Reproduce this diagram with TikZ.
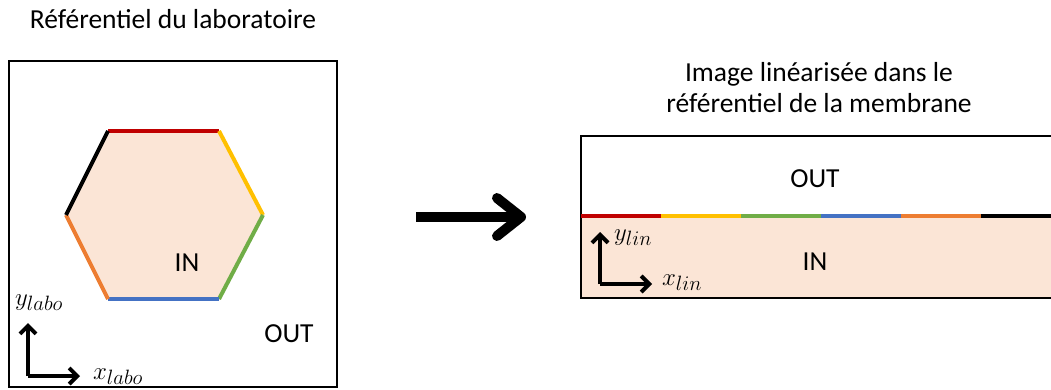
\documentclass[tikz,border=0pt]{standalone}
\usepackage{fontspec}
\setmainfont{Carlito}
\usepackage{tikz}
\usetikzlibrary{arrows.meta,positioning}
\definecolor{inpeach}{HTML}{FBE5D6}
\definecolor{segred}{HTML}{C00000}
\definecolor{segyellow}{HTML}{FFC000}
\definecolor{seggreen}{HTML}{70AD47}
\definecolor{segblue}{HTML}{4472C4}
\definecolor{segorange}{HTML}{ED7D31}
\tikzset{
  frame/.style   ={draw,line width=2pt},
  memb/.style    ={line width=4pt},
  lbl/.style     ={font=\fontsize{27.5}{31}\selectfont,inner sep=0pt,anchor=base},
  mlbl/.style    ={lbl,font=\fontsize{30}{36}\selectfont},
  ttl/.style     ={lbl,align=center},
  axisarr/.style ={-{Straight Barb[length=8pt,width=16pt]},line width=4pt},
  bigarr/.style  ={-{Straight Barb[round,length=24pt,width=38pt]},line width=10pt},
}

\begin{document}
\begin{tikzpicture}[x=1pt,y=-1pt]
\useasboundingbox (0,0) rectangle (1051,390);

% left: laboratory frame
\node[ttl] (titlab) at (173,29) {Référentiel du laboratoire};
\draw[frame] (9,61) rectangle (337,387);

\coordinate (h1) at (108,131);
\coordinate (h2) at (219,131);
\coordinate (h3) at (263,215);
\coordinate (h4) at (219,299);
\coordinate (h5) at (108,299);
\coordinate (h6) at (66,215);
\fill[inpeach] (h1) -- (h2) -- (h3) -- (h4) -- (h5) -- (h6) -- cycle;
\draw[memb,segred]    (h1) -- (h2);
\draw[memb,segyellow] (h2) -- (h3);
\draw[memb,seggreen]  (h3) -- (h4);
\draw[memb,segblue]   (h4) -- (h5);
\draw[memb,segorange] (h5) -- (h6);
\draw[memb,black]     (h6) -- (h1);

\node[lbl] (inlab)  at (187,271) {IN};
\node[lbl] (outlab) at (289,342) {OUT};

\coordinate (olab) at (28,376);
\coordinate (ylab) at (28,323);
\coordinate (xlab) at (80,376);
\draw[axisarr] (olab) -- (ylab);
\draw[axisarr] (olab) -- (xlab);
\node[mlbl] (ylabo) at (39,305) {$y_{labo}$};
\node[mlbl] (xlabo) at (118,379) {$x_{labo}$};

% arrow
\coordinate (a1) at (416,217);
\coordinate (a2) at (526,217);
\draw[bigarr] (a1) -- (a2);

% right: linearised image
\node[ttl] (titlin) at (819,113) {Image linéarisée dans le\\référentiel de la membrane};
\fill[inpeach] (581,216) rectangle (1053,298);
\draw[frame] (1053,136) -- (581,136) -- (581,298) -- (1053,298);

\coordinate (m0) at (581,216);
\coordinate (m1) at (661,216);
\coordinate (m2) at (741,216);
\coordinate (m3) at (821,216);
\coordinate (m4) at (901,216);
\coordinate (m5) at (981,216);
\coordinate (m6) at (1053,216);
\draw[memb,segred]    (m0) -- (m1);
\draw[memb,segyellow] (m1) -- (m2);
\draw[memb,seggreen]  (m2) -- (m3);
\draw[memb,segblue]   (m3) -- (m4);
\draw[memb,segorange] (m4) -- (m5);
\draw[memb,black]     (m5) -- (m6);

\node[lbl] (outlin) at (815,187) {OUT};
\node[lbl] (inlin)  at (815,270) {IN};

\coordinate (olin) at (600,284);
\coordinate (ylin) at (600,232);
\coordinate (xlin) at (652,284);
\draw[axisarr] (olin) -- (ylin);
\draw[axisarr] (olin) -- (xlin);
\node[mlbl] (ylinn) at (633,240) {$y_{lin}$};
\node[mlbl] (xlinn) at (682,285) {$x_{lin}$};

\end{tikzpicture}
\end{document}
